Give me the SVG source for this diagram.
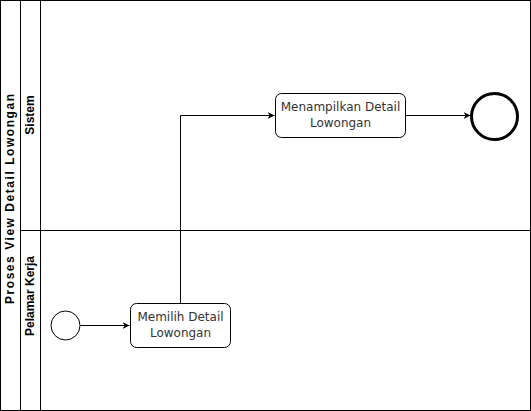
<svg xmlns="http://www.w3.org/2000/svg" width="531" height="411" viewBox="0 0 531 411">
<style>
.lane{fill:#fff;stroke:#000;stroke-width:1}
.hdr{font-family:"Liberation Sans",Arial,sans-serif;font-weight:bold;font-size:12px;fill:#000;text-anchor:middle;dominant-baseline:central}
.box{fill:#fff;stroke:#000;stroke-width:1}
.lbl{font-family:"DejaVu Sans",sans-serif;font-size:12px;fill:#333;text-anchor:middle}
.edge{fill:none;stroke:#000;stroke-width:1}
</style>
<defs>
<marker id="arr" viewBox="0 0 10 10" refX="10" refY="5" markerWidth="7" markerHeight="7" orient="auto" markerUnits="userSpaceOnUse">
<path d="M0,0 L10,5 L0,10 L3,5 Z" fill="#000"/>
</marker>
</defs>
<g id="pool">
<rect class="lane" x="0.5" y="0.5" width="530" height="410"/>
<line class="edge" x1="20.5" y1="0.5" x2="20.5" y2="410.5"/>
<line class="edge" x1="40.5" y1="0.5" x2="40.5" y2="410.5"/>
<line class="edge" x1="20.5" y1="230.5" x2="530.5" y2="230.5"/>
<text class="hdr" transform="translate(10,199) rotate(-90)" textLength="210" lengthAdjust="spacing">Proses View Detail Lowongan</text>
</g>
<g id="lane-sistem"><text class="hdr" transform="translate(30,115) rotate(-90)">Sistem</text></g>
<g id="lane-pelamar"><text class="hdr" transform="translate(30,296) rotate(-90)">Pelamar Kerja</text></g>
<g id="edges">
<line class="edge" x1="79.5" y1="325.5" x2="129.5" y2="325.5" marker-end="url(#arr)"/>
<polyline class="edge" points="180.5,303.5 180.5,115.5 274.5,115.5" marker-end="url(#arr)"/>
<line class="edge" x1="405.5" y1="115.5" x2="470.5" y2="115.5" marker-end="url(#arr)"/>
</g>
<g id="start"><circle class="box" cx="65.5" cy="325.5" r="14.5"/></g>
<g id="memilih">
<rect class="box" x="130.5" y="303.5" width="100" height="44" rx="6"/>
<text class="lbl" x="180.5" y="321">Memilih Detail</text>
<text class="lbl" x="180.5" y="337">Lowongan</text>
</g>
<g id="menampilkan">
<rect class="box" x="275.5" y="93.5" width="130" height="44" rx="6"/>
<text class="lbl" x="340.5" y="111">Menampilkan Detail</text>
<text class="lbl" x="340.5" y="127">Lowongan</text>
</g>
<g id="end"><circle fill="#fff" stroke="#000" stroke-width="3" cx="494.5" cy="116.5" r="23"/></g>
</svg>
